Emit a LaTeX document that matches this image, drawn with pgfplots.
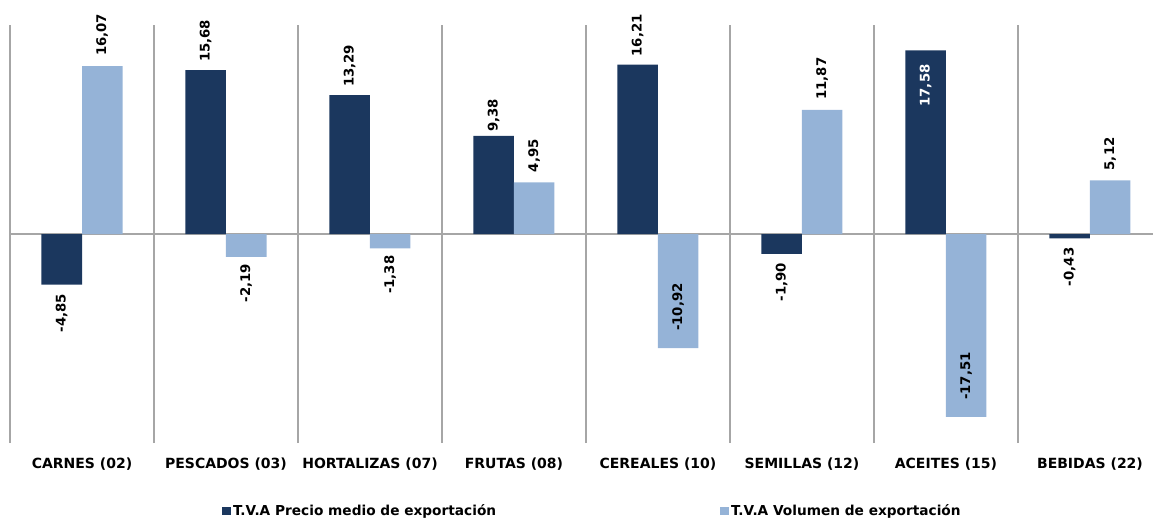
\documentclass[border=0pt]{standalone}
\usepackage{fontspec}
\setmainfont{DejaVu Sans}
\usepackage{pgfplots}
\pgfplotsset{compat=1.18}
\definecolor{darkb}{HTML}{1B375E}
\definecolor{lightb}{HTML}{95B3D7}
\definecolor{gridc}{HTML}{A6A6A6}
\pgfplotsset{
  lbl/.style={forget plot, draw=none, fill=none, point meta=explicit symbolic,
    nodes near coords,
    nodes near coords style={rotate=90, font=\fontsize{13.3}{16}\selectfont\bfseries, text=black, inner ysep=0pt, inner xsep=#1}},
}
\begin{document}
\begin{tikzpicture}
\begin{axis}[
  at={(0pt,0pt)}, anchor=south west,
  scale only axis, width=1143pt, height=418pt,
  xmin=-0.5, xmax=7.4375, ymin=-20, ymax=20,
  ybar, bar width=40.5pt,
  axis line style={draw=none},
  xtick={0,...,7},
  xticklabels={CARNES (02),PESCADOS (03),HORTALIZAS (07),FRUTAS (08),CEREALES (10),SEMILLAS (12),ACEITES (15),BEBIDAS (22)},
  x tick label style={font=\fontsize{14}{16}\selectfont\bfseries, text=black, yshift=-11pt},
  major tick length=0pt, minor tick length=0pt,
  minor xtick={-0.5,0.5,...,6.5},
  minor x grid style={gridc, line width=1.2pt},
  xminorgrids,
  ytick=\empty,
  extra y ticks={0}, extra y tick labels={},
  extra y tick style={grid=major, major grid style={gridc, line width=1.2pt}},
  clip=false,
  legend style={at={(axis description cs:0.1855,-0.143)}, anchor=north west, draw=none, fill=none, inner sep=0pt,
    font=\fontsize{13.7}{16}\selectfont\bfseries,
    legend columns=2,
    /tikz/every even column/.append style={column sep=222pt}},
]
\addplot[fill=darkb, draw=none, bar shift=-20.25pt,
  legend image code/.code={\fill[darkb] (0pt,-4pt) rectangle (9pt,4pt);}]
  coordinates {(0,-4.85) (1,15.68) (2,13.29) (3,9.38) (4,16.21) (5,-1.90) (6,17.58) (7,-0.43)};
\addplot[fill=lightb, draw=none, bar shift=20.25pt,
  legend image code/.code={\fill[lightb] (0pt,-4pt) rectangle (9pt,4pt);}]
  coordinates {(0,16.07) (1,-2.19) (2,-1.38) (3,4.95) (4,-10.92) (5,11.87) (6,-17.51) (7,5.12)};
\legend{T.V.A Precio medio de exportación, T.V.A Volumen de exportación}
% labels, dark series
\addplot[lbl=8pt, bar shift=-20.25pt, nodes near coords style={anchor=west}]
  coordinates {(1,15.68) [15,68] (2,13.29) [13,29] (4,16.21) [16,21]};
\addplot[lbl=4pt, bar shift=-20.25pt, nodes near coords style={anchor=west}]
  coordinates {(3,9.38) [9,38]};
\addplot[lbl=9pt, bar shift=-20.25pt, nodes near coords style={anchor=east}]
  coordinates {(0,-4.85) [-4,85] (5,-1.90) [-1,90] (7,-0.43) [-0,43]};
\addplot[lbl=14pt, bar shift=-20.25pt, nodes near coords style={anchor=east, text=white}]
  coordinates {(6,17.58) [17,58]};
% labels, light series
\addplot[lbl=10pt, bar shift=20.25pt, nodes near coords style={anchor=west}]
  coordinates {(0,16.07) [16,07] (3,4.95) [4,95] (5,11.87) [11,87] (7,5.12) [5,12]};
\addplot[lbl=7pt, bar shift=20.25pt, nodes near coords style={anchor=east}]
  coordinates {(1,-2.19) [-2,19] (2,-1.38) [-1,38]};
\addplot[lbl=17pt, bar shift=20.25pt, nodes near coords style={anchor=west}]
  coordinates {(4,-10.92) [-10,92] (6,-17.51) [-17,51]};
\end{axis}
\pgfresetboundingbox
\useasboundingbox (-10pt,-74pt) rectangle (1143pt,443pt);
\end{tikzpicture}
\end{document}
